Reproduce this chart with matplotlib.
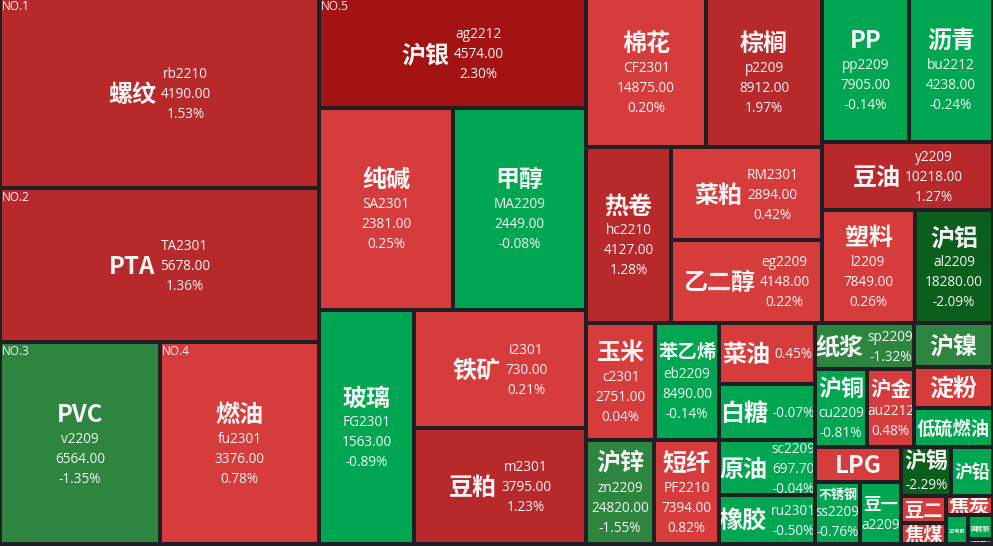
import numpy as np
import matplotlib.pyplot as plt
from matplotlib.patches import Rectangle

plt.rcParams['font.family'] = ['Noto Sans CJK SC', 'DejaVu Sans']

# futures, in layout order (trading weight decides the tile area)
names = ['螺纹', 'PTA', 'PVC', '燃油', '沪银', '纯碱', '甲醇', '玻璃', '铁矿', '豆粕',
         '棉花', '棕榈', '热卷', '菜粕', '乙二醇', 'PP', '沥青', '豆油', '塑料', '沪铝',
         '玉米', '苯乙烯', '沪锌', '短纤', '菜油', '白糖', '原油', '橡胶',
         '纸浆', '沪铜', '沪金', '沪镍', '淀粉', '低硫燃油', 'LPG', '不锈钢', '豆一',
         '沪锡', '沪铅', '豆二', '焦煤', '焦炭', '20号胶', '国际铜', '鸡蛋']
weight = [607.7, 489.7, 323.2, 321.2, 293.7, 270.0, 268.0, 222.8, 203.8, 199.5,
          178.8, 172.8, 149.2, 140.4, 124.6, 124.9, 120.5, 117.1, 104.6, 87.8,
          81.1, 75.2, 70.7, 67.6, 59.0, 53.8, 52.8, 47.0,
          46.0, 40.3, 36.4, 35.2, 32.4, 30.4, 30.5, 27.9, 25.4,
          24.3, 20.4, 12.3, 9.2, 9.1, 6.5, 6.0, 1.3]
codes = ['rb2210', 'TA2301', 'v2209', 'fu2301', 'ag2212', 'SA2301', 'MA2209', 'FG2301', 'i2301', 'm2301',
         'CF2301', 'p2209', 'hc2210', 'RM2301', 'eg2209', 'pp2209', 'bu2212', 'y2209', 'l2209', 'al2209',
         'c2301', 'eb2209', 'zn2209', 'PF2210', None, None, 'sc2209', 'ru2301',
         'sp2209', 'cu2209', 'au2212', None, None, None, None, 'ss2209', 'a2209',
         None, None, None, None, None, None, None, None]
prices = ['4190.00', '5678.00', '6564.00', '3376.00', '4574.00', '2381.00', '2449.00', '1563.00', '730.00', '3795.00',
          '14875.00', '8912.00', '4127.00', '2894.00', '4148.00', '7905.00', '4238.00', '10218.00', '7849.00', '18280.00',
          '2751.00', '8490.00', '24820.00', '7394.00', None, None, '697.70', None,
          None, None, None, None, None, None, None, None, None,
          None, None, None, None, None, None, None, None]
changes = [1.53, 1.36, -1.35, 0.78, 2.30, 0.25, -0.08, -0.89, 0.21, 1.23,
           0.20, 1.97, 1.28, 0.42, 0.22, -0.14, -0.24, 1.27, 0.26, -2.09,
           0.04, -0.14, -1.55, 0.82, 0.45, -0.07, -0.04, -0.50,
           -1.32, -0.81, 0.48, -1.20, 0.30, -0.30, 0.40, -0.76, -0.20,
           -2.29, -0.40, 0.50, 0.30, 0.20, -0.30, -0.50, -0.60]
change_shown = [True] * 31 + [False, False, False, False, True, False,
                              True, False, False, False, False, False, False, False]

# grouping used by the recursive two-way split
tree = (
    ((('螺纹', 'PTA'), ('PVC', '燃油')),
     (('沪银', ('纯碱', '甲醇')), ('玻璃', ('铁矿', '豆粕')))),
    (((('棉花', '棕榈'), ('热卷', ('菜粕', '乙二醇'))),
      (('PP', '沥青'), ('豆油', ('塑料', '沪铝')))),
     (((('玉米', '苯乙烯'), ('沪锌', '短纤')), (('菜油', '白糖'), ('原油', '橡胶'))),
      ((('纸浆', ('沪铜', '沪金')), ('沪镍', ('淀粉', '低硫燃油'))),
       (('LPG', ('不锈钢', '豆一')),
        (('沪锡', '沪铅'), (('豆二', '焦煤'), ('焦炭', ('20号胶', ('国际铜', '鸡蛋')))))))))
)

val = dict(zip(names, weight))


def total(node):
    if isinstance(node, str):
        return val[node]
    return sum(total(n) for n in node)


def split(node, x, y, w, h, out):
    if isinstance(node, str):
        out[node] = (x, y, w, h)
        return
    a, b = node
    f = total(a) / (total(a) + total(b))
    if w > h:
        split(a, x, y, w * f, h, out)
        split(b, x + w * f, y, w * (1 - f), h, out)
    else:
        split(a, x, y, w, h * f, out)
        split(b, x, y + h * f, w, h * (1 - f), out)


def tile_color(c):
    if c >= 2:
        return '#a41313'
    if c >= 1:
        return '#b8292b'
    if c >= 0:
        return '#d63c3c'
    if c > -1:
        return '#00a651'
    if c > -2:
        return '#2e8540'
    return '#0b5e1b'


BG = '#1f2023'
TXT = '#f4f4f4'
gap = 2
NUM_FONT = ['Open Sans', 'Noto Sans CJK SC', 'DejaVu Sans']

fig = plt.figure(figsize=(9.93, 5.46), dpi=100)
fig.patch.set_facecolor(BG)
ax = fig.add_axes([0, 0, 1, 1])
ax.set_xlim(0, 993)
ax.set_ylim(546, 0)
ax.axis('off')

cells = {}
split(tree, 0, -2, 993, 546, cells)
renderer = fig.canvas.get_renderer()

rank = np.argsort(-np.array(weight))[:5]

for i, nm in enumerate(names):
    x, y, w, h = cells[nm]
    x, y, w, h = x + gap, y + gap, w - 2 * gap, h - 2 * gap
    rect = Rectangle((x, y), w, h, facecolor=tile_color(changes[i]), edgecolor='none')
    ax.add_patch(rect)
    cx, cy = x + w / 2, y + h / 2

    lines = []
    if codes[i]:
        lines.append(codes[i])
    if prices[i]:
        lines.append(prices[i])
    if change_shown[i]:
        lines.append('%.2f%%' % changes[i])

    nt = ax.text(cx, cy + 2, nm, fontsize=17.3, fontweight='bold', color=TXT,
                 ha='center', va='center', clip_on=True)
    nt.set_clip_path(rect)
    nw = nt.get_window_extent(renderer).width
    scale = 1.0
    if nw > w - 2:
        scale = (w - 2) / nw
        nt.set_fontsize(17.3 * scale)
        nw = w - 2
    name_h = 29 * scale

    lts = []
    for s in lines:
        t = ax.text(cx, cy, s, fontsize=9.8, family=NUM_FONT, color=TXT,
                    ha='center', va='center', clip_on=True)
        t.set_clip_path(rect)
        lts.append(t)
    n = len(lts)
    if n == 0:
        pass
    elif w > 1.2 * h:
        bw = max(t.get_window_extent(renderer).width for t in lts)
        left = cx - (nw + 4 + bw) / 2
        nt.set_x(left + nw / 2)
        bx = left + nw + 4 + bw / 2
        for k, t in enumerate(lts):
            t.set_position((bx, cy + 1.5 + (k - (n - 1) / 2) * 20))
    else:
        top = cy - (name_h + n * 20) / 2
        nt.set_y(top + name_h / 2 + 1.5)
        for k, t in enumerate(lts):
            t.set_position((cx, top + name_h + 20 * (k + 0.5) + 1.5))

for r, i in enumerate(rank):
    x, y, w, h = cells[names[i]]
    ax.text(x + gap, y + gap + 0.5, 'NO.%d' % (r + 1), fontsize=8.5, family=NUM_FONT,
            color=TXT, ha='left', va='top', clip_on=True)

fig.savefig('out.png', dpi=100, facecolor=BG)
